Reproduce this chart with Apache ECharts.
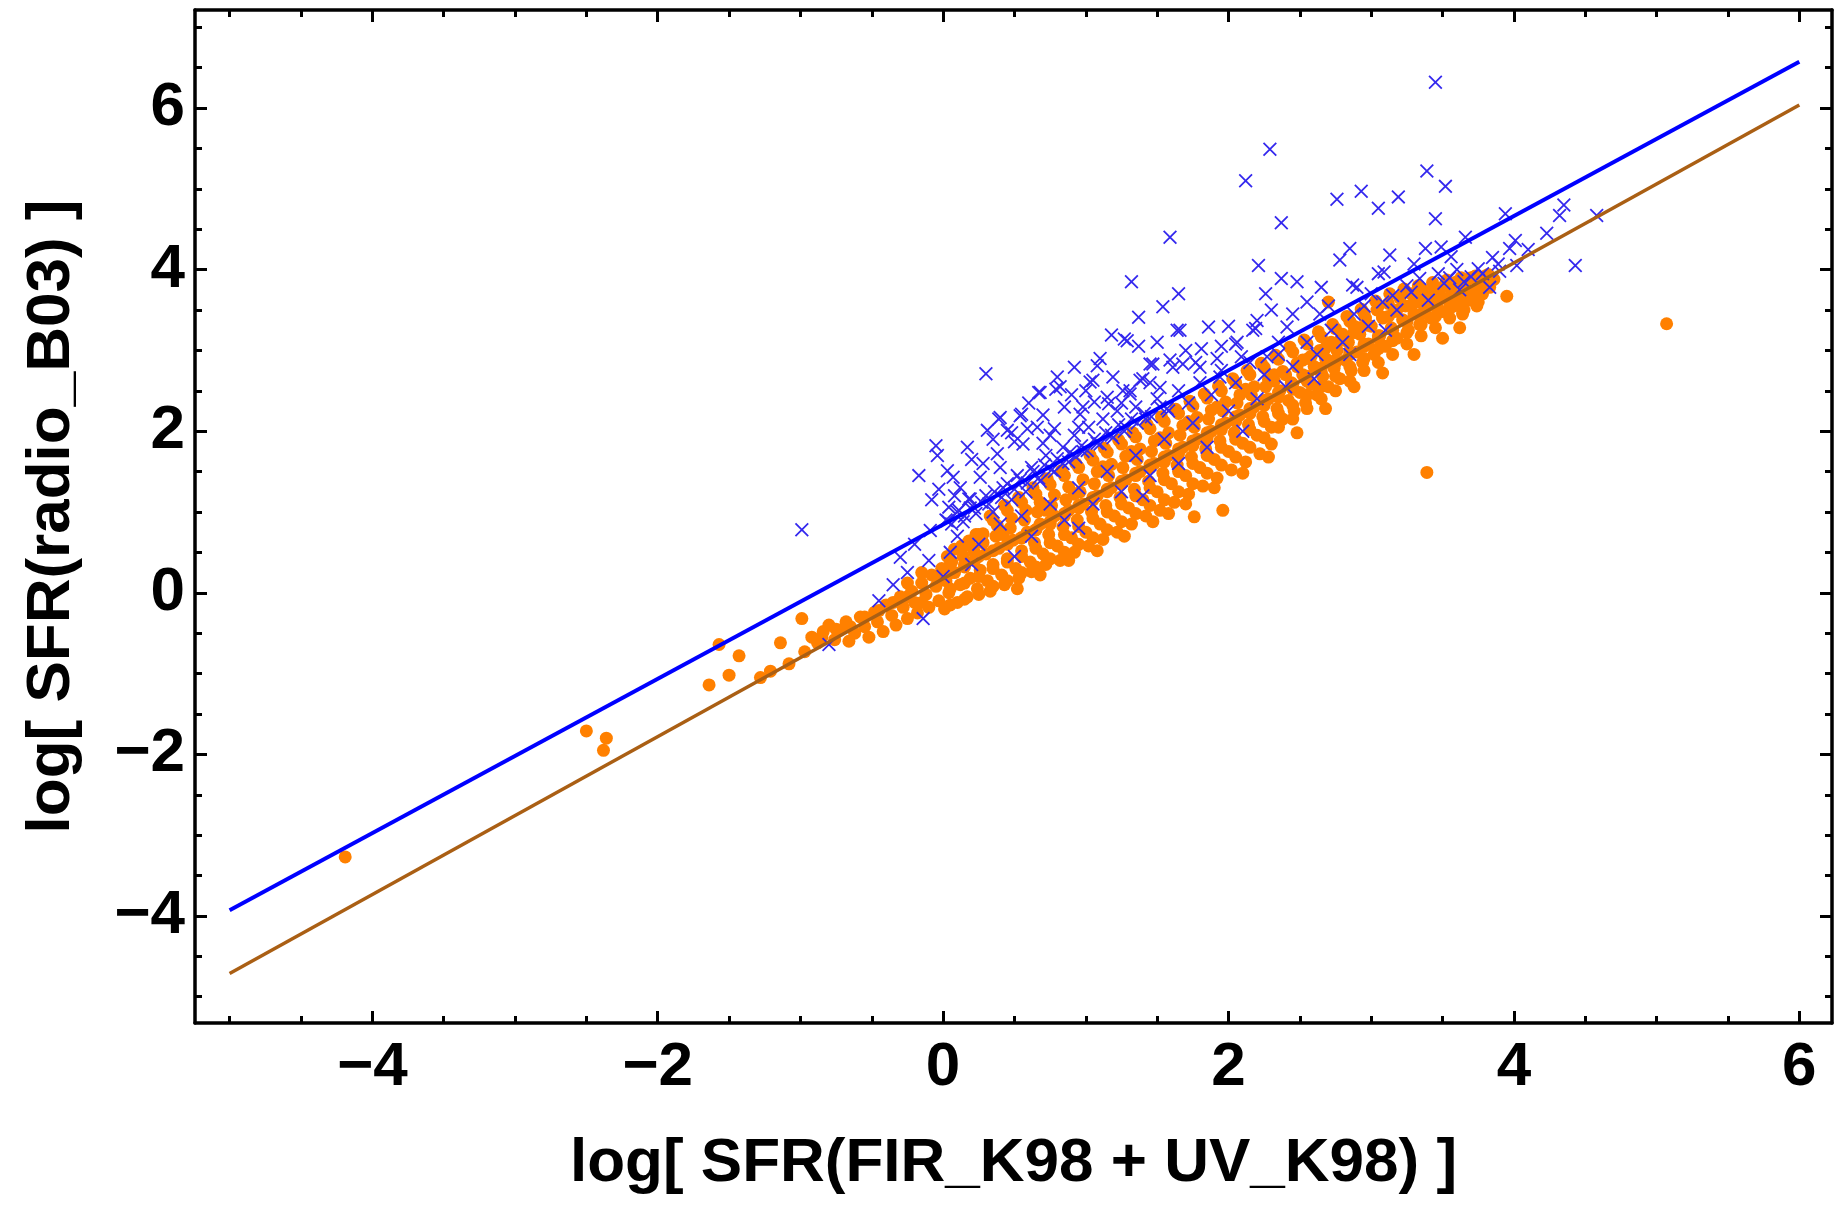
<!DOCTYPE html>
<html>
<head>
<meta charset="utf-8">
<script src="https://cdn.jsdelivr.net/npm/echarts@6/dist/echarts.min.js"></script>
<style>
html,body{margin:0;padding:0;background:#fff;}
#chart{width:1839px;height:1205px;}
</style>
</head>
<body>
<div id="chart"></div>
<script>
// ---- tick values ----
const xMajorTicks = [-4, -2, 0, 2, 4, 6];
const yMajorTicks = [-4, -2, 0, 2, 4, 6];
const xMinorTicks = [-5, -4.5, -3.5, -3, -2.5, -1.5, -1, -0.5, 0.5, 1, 1.5, 2.5, 3, 3.5, 4.5, 5, 5.5];
const yMinorTicks = [-5, -4.5, -3.5, -3, -2.5, -1.5, -1, -0.5, 0.5, 1, 1.5, 2.5, 3, 3.5, 4.5, 5, 5.5, 6.5, 7];

const xTitle = "log[ SFR(FIR_K98 + UV_K98) ]";
const yTitle = "log[ SFR(radio_B03) ]";

// ---- fit lines ----
const blueLine = [[-5, -3.93], [6, 6.573]];
const brownLine = [[-5, -4.713], [6, 6.037]];

// ---- orange points: [x, y] ----
const orangePoints = [
[-4.19,-3.27],
[-2.50,-1.71],[-2.36,-1.80],[-2.38,-1.95],
[-1.64,-1.14],[-1.57,-0.64],[-1.50,-1.02],[-1.43,-0.78],[-1.28,-1.05],[-1.21,-0.97],[-1.14,-0.62],[-1.08,-0.88],
[-0.99,-0.32],[-0.97,-0.73],[-0.92,-0.55],[-0.88,-0.62],[-0.84,-0.48],[-0.80,-0.40],[-0.76,-0.58],[-0.72,-0.46],
[-0.68,-0.36],[-0.66,-0.60],[-0.62,-0.50],[-0.58,-0.30],[-0.55,-0.42],[-0.52,-0.55],[-0.48,-0.24],[-0.46,-0.36],
[-0.42,-0.48],[-0.40,-0.15],[-0.36,-0.28],[-0.33,-0.40],[-0.30,-0.05],[-0.28,-0.18],[-0.25,-0.32],[-0.22,0.02],
[-0.20,-0.12],[-0.18,-0.25],[-0.15,0.12],[-0.12,-0.02],[-0.10,-0.18],[-0.08,0.22],[-0.05,0.08],[-0.03,-0.10],
[-0.01,0.30],[0.01,-0.20],[0.02,0.15],[0.04,0.00],[0.06,0.38],[0.08,0.25],[0.10,-0.12],[0.12,0.10],[0.14,0.45],
[0.15,0.32],[0.17,-0.05],[0.19,0.18],[0.21,0.55],[0.22,0.40],[0.24,0.05],[0.26,0.28],[0.28,0.62],[0.30,0.48],
[0.31,0.15],[0.33,0.02],[0.35,0.35],[0.37,0.70],[0.39,0.55],[0.41,0.22],[0.43,0.10],[0.45,0.42],[0.47,0.80],
[0.49,0.65],[0.51,0.30],[0.53,0.18],[0.55,0.52],[0.57,0.90],[0.59,0.75],[0.61,0.38],[0.62,0.26],[0.64,0.62],
[0.66,1.00],[0.68,0.85],[0.70,0.48],[0.72,0.35],[0.74,0.72],[0.76,1.08],[0.78,0.95],[0.80,0.58],[0.82,0.40],
[0.84,0.82],[0.86,1.15],[0.88,1.02],[0.90,0.68],[0.92,0.50],[0.94,0.90],[0.96,1.25],[0.98,1.10],[1.00,0.75],
[1.02,0.58],[1.04,1.00],[1.06,1.35],[1.08,1.20],[1.10,0.85],[1.12,0.66],[1.14,1.08],[1.16,1.45],[1.18,1.30],
[1.20,0.95],[1.22,0.75],[1.24,1.18],[1.26,1.55],[1.28,1.40],[1.30,1.05],[1.32,0.85],[1.34,1.28],[1.36,1.65],
[1.38,1.50],[1.40,1.15],[1.42,0.95],[1.44,1.38],[1.46,1.75],[1.48,1.60],[1.50,1.25],[1.52,1.02],[1.54,1.48],
[1.56,1.85],[1.58,1.70],[1.60,1.35],[1.62,1.12],[1.64,1.58],[1.66,1.95],[1.68,1.80],[1.70,1.45],[1.72,1.22],
[1.74,1.68],[1.76,2.05],[1.78,1.90],[1.76,0.94],[1.80,1.55],[1.82,1.32],[1.84,1.78],[1.86,2.15],[1.88,2.00],
[1.90,1.65],[1.92,1.42],[1.94,1.88],[1.96,1.02],[1.96,2.25],[1.98,2.10],[2.00,1.75],[2.02,1.52],[2.04,1.98],
[2.06,2.35],[2.08,2.20],[2.10,1.85],[2.12,1.62],[2.14,2.08],[2.16,2.45],[2.18,2.30],[2.20,1.95],[2.22,1.72],
[2.24,2.18],[2.26,2.55],[2.28,2.40],[2.30,1.84],[2.30,2.05],[2.32,2.62],[2.34,2.28],[2.36,2.50],[2.38,2.15],
[2.40,2.70],[2.42,2.38],[2.44,2.60],[2.46,2.25],[2.48,2.80],[2.50,2.48],[2.52,2.70],[2.54,2.35],[2.56,2.90],
[2.58,2.58],[2.60,2.80],[2.62,2.45],[2.64,3.00],[2.66,2.68],[2.68,2.90],[2.70,2.55],[2.70,3.60],[2.72,3.10],
[2.74,2.78],[2.76,3.00],[2.78,2.65],[2.80,3.20],[2.82,2.88],[2.84,3.10],[2.86,2.75],[2.88,3.30],[2.90,2.98],
[2.92,3.20],[2.94,2.85],[2.96,3.40],[2.98,3.08],[3.00,3.30],[3.02,2.95],[3.04,3.50],[3.06,3.18],[3.08,3.40],
[3.10,3.05],[3.12,3.58],[3.14,3.28],[3.16,3.48],[3.18,3.15],[3.20,3.65],[3.22,3.38],[3.24,3.55],[3.26,3.25],
[3.28,3.70],[3.30,3.45],[3.32,3.60],[3.34,3.32],[3.36,3.75],[3.38,3.52],[3.40,3.66],[3.39,1.49],[3.42,3.40],
[3.44,3.78],[3.46,3.58],[3.48,3.70],[3.50,3.48],[3.52,3.82],[3.54,3.62],[3.56,3.75],[3.58,3.55],[3.60,3.85],
[3.62,3.68],[3.64,3.45],[3.66,3.80],[3.68,3.62],[3.70,3.90],[3.72,3.72],[3.74,3.55],[3.76,3.85],[3.78,3.70],
[3.80,3.92],[3.83,3.78],[3.86,3.88],[3.95,3.67],[5.07,3.33],
// upper part of the band, up to the blue line
[0.03,0.45],[0.08,0.54],[0.13,0.58],[0.18,0.64],[0.23,0.72],[0.28,0.73],[0.33,0.95],[0.38,0.83],[0.43,1.08],
[0.48,0.92],[0.53,1.18],[0.58,1.02],[0.63,1.30],[0.68,1.12],[0.73,1.41],[0.78,1.21],[0.83,1.51],[0.88,1.31],
[0.93,1.60],[0.98,1.40],[1.03,1.70],[1.08,1.50],[1.13,1.79],[1.18,1.59],[1.23,1.89],[1.28,1.69],[1.33,1.98],
[1.38,1.78],[1.43,2.08],[1.48,1.88],[1.53,2.18],[1.58,1.98],[1.63,2.27],[1.68,2.07],[1.73,2.37],[1.78,2.17],
[1.83,2.46],[1.88,2.26],[1.93,2.56],[1.98,2.36],[2.03,2.65],[2.08,2.45],[2.13,2.75],[2.18,2.55],[2.23,2.84],
[2.28,2.64],[2.33,2.94],[2.38,2.74],[2.43,3.04],[2.48,2.84],[2.53,3.13],[2.58,2.93],[2.63,3.23],[2.68,3.03],
[2.73,3.32],[2.78,3.12],[2.83,3.42],[2.88,3.22],[2.93,3.51],[2.98,3.31],[3.03,3.61],[3.08,3.41],[3.13,3.70],
[3.18,3.50],[3.23,3.76],[3.28,3.56],[3.33,3.80],[3.38,3.60],[3.43,3.84],[3.48,3.64],[3.53,3.87],[3.58,3.67],
[3.63,3.90],[3.68,3.70],[3.73,3.92],[3.78,3.74],[3.82,3.94],
// middle fill
[1.55,1.68],[1.65,1.78],[1.75,1.88],[1.85,1.98],[1.95,2.08],[2.05,2.18],[2.15,2.28],[2.25,2.38],[2.35,2.48],
[2.45,2.58],[2.55,2.68],[2.65,2.78],[2.75,2.88],[2.85,2.98],[2.95,3.08],[3.05,3.18],[1.05,1.18],[1.15,1.28],
[1.25,1.38],[1.35,1.48],[1.45,1.58],[0.55,0.68],[0.65,0.78],[0.75,0.88],[0.85,0.98],[0.95,1.08],
// second fill pass
[0.05,-0.15],[0.05,0.05],[0.05,0.25],[0.15,-0.08],[0.15,0.12],[0.15,0.35],[0.25,-0.02],[0.25,0.20],[0.25,0.45],
[0.35,0.08],[0.35,0.30],[0.35,0.52],[0.45,0.15],[0.45,0.38],[0.45,0.60],[0.55,0.25],[0.55,0.45],[0.55,0.68],
[0.65,0.32],[0.65,0.55],[0.65,0.78],[0.75,0.42],[0.75,0.62],[0.75,0.85],[0.85,0.50],[0.85,0.72],[0.85,0.95],
[0.95,0.60],[0.95,0.82],[0.95,1.05],[1.05,0.68],[1.05,0.92],[1.05,1.15],[1.15,0.78],[1.15,1.00],[1.15,1.25],
[1.25,0.88],[1.25,1.10],[1.25,1.35],[1.35,0.98],[1.35,1.20],[1.35,1.45],[1.45,1.08],[1.45,1.30],[1.45,1.55],
[1.55,1.15],[1.55,1.40],[1.55,1.62],[1.65,1.25],[1.65,1.50],[1.65,1.72],[1.75,1.35],[1.75,1.60],[1.75,1.82],
[1.85,1.48],[1.85,1.70],[1.85,1.92],[1.95,1.58],[1.95,1.80],[1.95,2.02],[2.05,1.68],[2.05,1.90],[2.05,2.12],
[2.15,1.80],[2.15,2.02],[2.15,2.22],[2.25,1.92],[2.25,2.12],[2.25,2.32],[2.35,2.05],[2.35,2.22],[2.35,2.42],
[2.45,2.15],[2.45,2.32],[2.45,2.52],[2.55,2.28],[2.55,2.45],[2.55,2.62],[2.65,2.40],[2.65,2.55],[2.65,2.72],
[2.75,2.50],[2.75,2.68],[2.75,2.85],[2.85,2.62],[2.85,2.80],[2.85,2.95],[2.95,2.75],[2.95,2.90],[2.95,3.05],
[3.05,2.85],[3.05,3.02],[3.05,3.15],[3.15,2.95],[3.15,3.12],[3.15,3.25],[3.25,3.08],[3.25,3.22],[3.25,3.35],
[3.35,3.18],[3.35,3.32],[3.35,3.45],[3.45,3.28],[3.45,3.42],[3.45,3.55],[3.55,3.40],[3.55,3.52],[3.55,3.65],
[3.65,3.50],[3.65,3.62],[3.65,3.75],[3.75,3.60],[3.75,3.72],[3.75,3.82],
[0.05,0.40],[0.15,0.58],[0.25,0.72],[0.35,0.90],[0.45,1.02],[0.55,1.12],[0.65,1.22],[0.75,1.34],[0.85,1.45],
[0.95,1.55],[1.05,1.64],[1.15,1.74],[1.25,1.84],[1.35,1.93],[1.45,2.03],[1.55,2.12],[1.65,2.22],[1.75,2.31],
[1.85,2.41],[1.95,2.50],[2.05,2.60],[2.15,2.70],[2.25,2.79],[2.35,2.89],[2.45,2.98],[2.55,3.08],[2.65,3.17],
[2.75,3.27],[2.85,3.36],[2.95,3.46],[3.05,3.55],
[-0.85,-0.55],[-0.75,-0.45],[-0.65,-0.42],[-0.55,-0.30],[-0.45,-0.22],[-0.35,-0.12],[-0.25,-0.05],[-0.15,-0.12],
[-0.05,0.20],[-0.15,0.25],[-0.25,0.12],
// irregular extra points
[0.52,0.05],[0.68,0.22],[0.88,0.40],[1.08,0.52],[1.27,0.70],[1.47,0.88],[1.58,0.98],[1.70,1.10],[1.90,1.30],
[2.10,1.48],[2.28,1.68],[2.48,1.98],[2.68,2.28],[2.88,2.55],[3.08,2.72],[3.30,2.95],[3.50,3.15],[3.62,3.28],
[1.12,1.56],[1.32,1.75],[1.52,1.92],[1.72,2.12],[1.92,2.30],[2.12,2.52],[2.32,2.70],[2.52,2.88],[2.72,3.08],
[2.92,3.28],[3.12,3.42],[3.32,3.65],[0.72,1.02],[0.92,1.22],[0.42,0.72],[0.22,0.50]
];

// ---- blue cross points: [x, y] ----
const crossPoints = [
[3.45,6.32],[2.29,5.49],[2.12,5.10],[3.39,5.22],[3.52,5.03],[2.93,4.97],[2.76,4.87],[3.05,4.76],[3.19,4.90],
[2.37,4.58],[1.59,4.40],[3.45,4.63],[3.66,4.40],[3.94,4.69],[4.35,4.80],[4.58,4.67],[4.32,4.67],[4.43,4.05],
[4.01,4.36],[4.23,4.45],[3.97,4.26],[2.85,4.26],[3.13,4.18],[3.38,4.26],[3.49,4.28],[3.56,4.16],[3.30,4.07],
[3.09,3.97],[3.47,3.95],[3.75,4.01],[3.89,4.07],[4.02,4.05],[2.90,3.78],[3.34,3.89],[3.51,3.83],[3.83,3.78],
[3.70,3.91],[3.15,3.68],
[1.32,3.85],[1.65,3.70],[1.54,3.54],[1.37,3.41],[2.21,4.05],[2.37,3.89],[2.48,3.85],[2.26,3.70],[2.65,3.78],
[2.78,4.12],[2.87,3.81],[3.05,3.95],
[1.18,3.19],[1.27,3.14],[1.37,3.05],[1.66,3.25],[1.86,3.29],[1.81,3.02],[2.06,3.10],[2.19,3.27],[1.92,2.90],
[0.92,2.79],[1.08,2.81],[0.30,2.71],[0.82,2.55],[0.68,2.48],[1.19,2.67],[1.59,2.88],[1.68,2.83],[1.80,2.79],
[1.45,2.83],[1.40,2.65],[1.26,2.50],[1.03,2.61],[1.06,2.36],[1.16,2.34],[0.40,2.17],[0.55,2.21],[0.31,2.01],
[0.17,1.80],[-0.05,1.82],[-0.04,1.70],[-0.17,1.45],[0.03,1.51],[0.07,1.43],[-0.03,1.28],[0.45,2.01],[0.66,2.05],
[0.75,1.95],[0.28,1.60],[0.38,1.72],[0.56,1.84],[0.85,2.30],[0.96,2.21],[0.18,1.16],[0.04,1.06],
[2.41,3.29],[2.64,3.45],[2.20,3.37],[2.35,3.10],[2.27,2.92],[1.47,2.83],[1.38,2.63],[1.31,2.46],[1.52,2.54],
[1.94,2.67],[2.09,2.92],[1.61,2.79],[1.77,2.85],[2.05,3.08],[2.17,3.25],[1.64,3.25],[1.29,3.12],
[0.67,2.48],[0.79,2.52],[0.80,2.67],[1.05,2.63],[0.98,2.30],[1.15,2.42],[1.31,2.50],[0.39,2.15],[0.54,2.19],
[0.59,2.03],[0.78,2.03],[0.50,1.87],[0.26,1.43],[0.19,1.16],[0.10,1.00],[0.03,0.89],[-0.09,0.77],[-0.20,0.60],
[-0.30,0.44],[-0.99,0.78],[-0.14,-0.32],[-0.80,-0.64],
[0.15,0.95],[0.22,1.05],[0.30,1.20],[0.35,1.00],[0.42,1.30],[0.48,1.15],[0.52,1.45],[0.58,1.25],[0.62,1.55],
[0.68,1.38],[0.72,1.70],[0.78,1.50],[0.84,1.80],[0.88,1.62],[0.92,1.95],[0.98,1.75],[1.02,2.05],[1.08,1.85],
[1.12,2.15],[1.18,1.95],[1.22,2.25],[1.28,2.05],[1.35,2.30],[1.42,2.15],[1.50,2.40],[1.58,2.25],[1.65,2.50],
[1.72,2.35],[1.80,2.60],[1.88,2.45],[1.95,2.75],[2.05,2.60],[2.15,2.85],[2.25,2.70],[2.35,2.95],[2.45,2.80],
[2.55,3.10],[2.62,2.95],[2.72,3.25],[2.80,3.10],[2.88,3.45],[2.98,3.30],[3.08,3.60],[3.18,3.50],[3.28,3.72],
[3.40,3.62],[3.55,3.90],[3.62,3.75],
[0.25,0.60],[0.40,0.85],[0.55,0.95],[0.62,0.70],[0.75,1.10],[0.85,0.90],[0.95,1.30],[1.05,1.10],[1.15,1.50],
[1.25,1.25],[1.35,1.70],[1.45,1.45],[1.55,1.90],[1.65,1.60],[1.75,2.10],[1.85,1.80],[2.00,2.25],[2.20,2.40],
[2.40,2.55],[2.60,2.65],[2.85,2.95],[3.10,3.25],[0.50,0.45],[0.95,0.80],[1.40,1.20],[2.10,2.00],[-0.35,0.10],
[-0.25,0.25],[-0.10,0.40],[0.05,0.50],[0.00,0.20],[-0.45,-0.10],[0.10,0.70],[0.20,0.35],
[3.65,3.85],[3.78,3.95],[3.90,3.98],[3.85,4.15],[4.10,4.25],[3.60,4.00],[3.25,3.80],[3.00,3.70],[2.95,3.55],
[2.70,3.55],[2.55,3.60],[2.45,3.45],[2.30,3.50],[2.00,3.30],[1.95,3.05],[1.70,3.00],[1.50,3.10],[1.45,2.60],
[1.10,2.90],[1.00,2.50],[0.90,2.45],[0.70,2.20],[0.60,2.35],[0.48,1.98],[0.35,1.90],[0.20,1.65],[0.12,1.30],
[-0.08,1.15],[0.08,1.20],
[0.02,0.90],[0.06,0.85],[0.11,1.02],[0.14,0.88],[0.19,1.05],[0.23,0.98],[0.27,1.12],[0.32,1.10],[0.36,1.25],
[0.41,1.18],[0.45,1.35],[0.50,1.28],[0.54,1.40],[0.59,1.36],[0.63,1.50],[0.67,1.42],[0.71,1.58],[0.76,1.52],
[0.80,1.66],[0.84,1.60],[0.89,1.74],[0.93,1.68],[0.97,1.82],[1.01,1.76],[1.06,1.90],[1.10,1.84],[1.14,1.98],
[1.19,1.92],[1.23,2.08],[1.27,2.00],[1.32,2.15],[1.36,2.10],[1.41,2.22],[1.46,2.18],[1.52,2.30],[1.57,2.28],
[0.70,1.85],[0.95,2.05],[1.25,2.35],[0.40,1.55]
];

// ---- layout ----
const X_MIN = -5.2425, X_MAX = 6.229;
const Y_MIN = -5.325, Y_MAX = 7.213;
const FONT = 'Liberation Sans, Arial, sans-serif';
const fmt = v => (v < 0 ? '\u2212' + Math.abs(v) : String(v));
const lineStyle = {color: '#000', width: 3.5};
const tickStyle = {color: '#000', width: 3};

function xAx(pos, ticks, len, labels, line) {
  return {
    type: 'value', position: pos, min: X_MIN, max: X_MAX,
    axisLine: {show: line, onZero: false, lineStyle: lineStyle},
    axisTick: {show: true, inside: true, length: len, customValues: ticks, lineStyle: tickStyle},
    axisLabel: labels ? {show: true, customValues: ticks, formatter: fmt, margin: 14,
      color: '#000', fontFamily: FONT, fontWeight: 'bold', fontSize: 62} : {show: false},
    splitLine: {show: false},
    name: labels ? xTitle : '', nameLocation: 'middle', nameGap: 110,
    nameTextStyle: {color: '#000', fontFamily: FONT, fontWeight: 'bold', fontSize: 62}
  };
}
function yAx(pos, ticks, len, labels, line) {
  return {
    type: 'value', position: pos, min: Y_MIN, max: Y_MAX,
    axisLine: {show: line, onZero: false, lineStyle: lineStyle},
    axisTick: {show: true, inside: true, length: len, customValues: ticks, lineStyle: tickStyle},
    axisLabel: labels ? {show: true, customValues: ticks, formatter: fmt, margin: 10,
      color: '#000', fontFamily: FONT, fontWeight: 'bold', fontSize: 62} : {show: false},
    splitLine: {show: false},
    name: labels ? yTitle : '', nameLocation: 'middle', nameGap: 112,
    nameTextStyle: {color: '#000', fontFamily: FONT, fontWeight: 'bold', fontSize: 62}
  };
}

const crossPath = 'path://M0,0.9L0.9,0L10,9.1L9.1,10ZM9.1,0L10,0.9L0.9,10L0,9.1Z';

const chart = echarts.init(document.getElementById('chart'), null, {renderer: 'canvas'});
chart.setOption({
  animation: false,
  backgroundColor: '#fff',
  grid: {left: 195, right: 7, top: 10, bottom: 182, containLabel: false},
  xAxis: [
    xAx('bottom', xMajorTicks, 12, true, true),
    xAx('bottom', xMinorTicks, 7, false, false),
    xAx('top', xMajorTicks, 12, false, true),
    xAx('top', xMinorTicks, 7, false, false)
  ],
  yAxis: [
    yAx('left', yMajorTicks, 12, true, true),
    yAx('left', yMinorTicks, 7, false, false),
    yAx('right', yMajorTicks, 12, false, true),
    yAx('right', yMinorTicks, 7, false, false)
  ],
  series: [
    {type: 'scatter', name: 'orange', data: orangePoints, symbol: 'circle', symbolSize: 13,
     itemStyle: {color: '#FF8000', opacity: 1}, z: 2, silent: true},
    {type: 'scatter', name: 'cross', data: crossPoints, symbol: crossPath, symbolSize: 14,
     itemStyle: {color: '#3428ee', opacity: 1}, z: 3, silent: true},
    {type: 'line', name: 'blue', data: blueLine, showSymbol: false, symbol: 'none',
     lineStyle: {color: '#0000FF', width: 4}, z: 4, silent: true},
    {type: 'line', name: 'brown', data: brownLine, showSymbol: false, symbol: 'none',
     lineStyle: {color: '#AA5F14', width: 3.5}, z: 4, silent: true}
  ]
});
</script>
</body>
</html>
